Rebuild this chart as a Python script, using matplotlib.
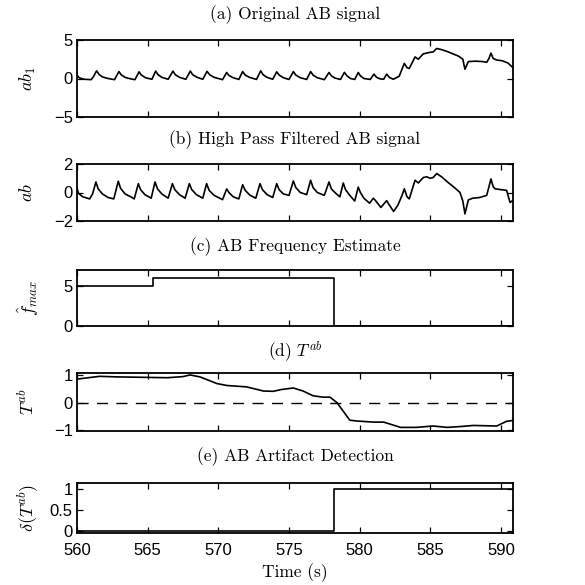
"""Five stacked panels: AB signal, filtered signal, frequency, T^ab and artifact flag."""

import matplotlib

matplotlib.use("Agg")
import matplotlib.pyplot as plt

plt.rcParams["font.family"] = ["Liberation Sans", "DejaVu Sans"]
plt.rcParams["mathtext.fontset"] = "cm"

# (a) original AB signal, knots
ab1_t = [
    560.0, 560.15, 560.5, 561.0, 561.15, 561.39, 561.55, 561.8, 562.2, 562.65,
    562.97, 563.12, 563.4, 563.8, 564.1, 564.39, 564.55, 564.85, 565.3, 565.57,
    565.73, 566.0, 566.45, 566.79, 566.95, 567.25, 567.7, 568.02, 568.18, 568.5,
    568.9, 569.2, 569.38, 569.7, 570.0, 570.3, 570.59, 570.75, 571.05, 571.45,
    571.72, 571.9, 572.2, 572.7, 573.0, 573.16, 573.45, 573.85, 574.13, 574.3,
    574.6, 575.0, 575.31, 575.48, 575.8, 576.25, 576.53, 576.7, 577.0, 577.5,
    577.83, 578.0, 578.25, 578.65, 578.92, 579.1, 579.35, 579.65, 579.9, 580.05,
    580.3, 580.75, 581.01, 581.2, 581.45, 581.7, 581.91, 582.1, 582.38, 582.8,
    583.16, 583.35, 583.51, 583.92, 584.15, 584.5, 584.98, 585.2, 585.45, 585.8,
    586.2, 586.6, 587.0, 587.3, 587.45, 587.69, 588.2, 588.7, 588.99, 589.15,
    589.29, 589.45, 589.7, 590.1, 590.5, 590.85,
]
ab1_v = [
    0.45, 0.1, -0.1, -0.15, 0.2, 1.0, 0.55, 0.2, 0.0, -0.15,
    0.9, 0.5, 0.15, -0.05, -0.15, 0.87, 0.45, 0.1, -0.1, 0.96,
    0.5, 0.15, -0.1, 0.96, 0.5, 0.15, -0.1, 0.96, 0.5, 0.15,
    -0.1, 0.93, 0.5, 0.15, 0.0, -0.15, 0.78, 0.4, 0.1, -0.12,
    0.9, 0.45, 0.15, -0.12, 1.0, 0.5, 0.15, -0.1, 0.87, 0.45,
    0.1, -0.12, 0.9, 0.45, 0.1, -0.12, 0.9, 0.45, 0.1, -0.15,
    0.78, 0.35, 0.05, -0.12, 0.8, 0.35, 0.0, -0.12, 0.78, 0.35,
    0.0, -0.12, 0.57, 0.15, -0.05, -0.1, 0.57, 0.15, -0.1, 0.3,
    1.96, 1.4, 1.3, 2.8, 2.5, 3.2, 3.4, 3.45, 3.9, 3.75,
    3.5, 3.2, 2.9, 2.5, 1.2, 2.2, 2.25, 2.2, 2.1, 2.6,
    3.3, 2.6, 2.4, 2.3, 2.0, 1.4,
]

# (b) high pass filtered AB signal
ab_t = [
    560.0, 560.1, 560.4, 560.9, 561.1, 561.34, 561.5, 561.8, 562.2, 562.6,
    562.92, 563.08, 563.4, 563.8, 564.05, 564.34, 564.5, 564.8, 565.25, 565.52,
    565.7, 566.0, 566.45, 566.75, 566.92, 567.25, 567.65, 567.95, 568.12, 568.45,
    568.9, 569.17, 569.35, 569.7, 570.0, 570.3, 570.59, 570.75, 571.05, 571.45,
    571.72, 571.9, 572.25, 572.65, 572.95, 573.12, 573.45, 573.85, 574.13, 574.3,
    574.6, 575.0, 575.31, 575.48, 575.8, 576.25, 576.53, 576.7, 577.0, 577.5,
    577.83, 578.0, 578.3, 578.6, 578.84, 579.0, 579.3, 579.65, 579.9, 580.05,
    580.3, 580.7, 580.97, 581.15, 581.5, 581.91, 582.05, 582.4, 582.7, 583.0,
    583.16, 583.35, 583.51, 583.92, 584.15, 584.5, 584.75, 584.98, 585.2, 585.45,
    585.8, 586.2, 586.7, 587.1, 587.3, 587.45, 587.69, 588.0, 588.5, 588.99,
    589.29, 589.45, 589.58, 590.0, 590.4, 590.64, 590.85,
]
ab_v = [
    0.3, -0.05, -0.3, -0.45, -0.1, 0.74, 0.25, -0.1, -0.35, -0.45,
    0.79, 0.3, -0.1, -0.3, -0.45, 0.62, 0.2, -0.15, -0.4, 0.74,
    0.25, -0.1, -0.4, 0.62, 0.2, -0.15, -0.4, 0.62, 0.2, -0.15,
    -0.4, 0.62, 0.15, -0.2, -0.35, -0.5, 0.25, 0.0, -0.3, -0.45,
    0.55, 0.15, -0.2, -0.4, 0.62, 0.2, -0.15, -0.35, 0.62, 0.2,
    -0.1, -0.2, 0.81, 0.35, 0.0, -0.15, 0.86, 0.35, 0.0, -0.2,
    0.74, 0.25, -0.05, -0.3, 0.67, 0.2, -0.2, -0.6, 0.38, 0.0,
    -0.4, -0.75, -0.4, -0.6, -1.05, -0.57, -0.8, -1.33, -0.9, -0.2,
    0.26, -0.3, -0.45, 0.86, 0.67, 1.05, 1.1, 1.0, 1.05, 1.33,
    1.1, 0.75, 0.35, 0.0, -0.6, -1.5, -0.52, -0.4, -0.35, -0.2,
    0.95, 0.4, 0.26, 0.2, 0.15, -0.7, -0.55,
]

# (c) frequency estimate (step)
fmax_t = [560.0, 565.4, 578.15, 590.85]
fmax_v = [5, 6, 0, 0]

# (d) T^ab
tab_t = [
    560.0, 561.6, 562.8, 565.2, 566.4, 567.5, 568.0, 568.7, 569.9, 570.6,
    572.0, 573.2, 573.9, 574.4, 575.3, 576.0, 576.7, 577.4, 577.9, 578.4,
    579.3, 579.8, 581.0, 581.7, 582.9, 584.0, 585.2, 586.2, 587.1, 588.05,
    589.7, 590.4, 590.85,
]
tab_v = [
    0.85, 0.95, 0.93, 0.91, 0.9, 0.94, 1.0, 0.93, 0.69, 0.62,
    0.57, 0.42, 0.41, 0.47, 0.53, 0.42, 0.25, 0.2, 0.2, 0.0,
    -0.63, -0.66, -0.7, -0.7, -0.89, -0.89, -0.84, -0.89, -0.86, -0.82,
    -0.84, -0.67, -0.64,
]

# (e) artifact detection (step)
det_t = [560.0, 578.15, 590.85]
det_v = [0, 1, 1]

X_LIM = (560, 590.85)
X_TICKS = [560, 565, 570, 575, 580, 585, 590]

W = H = 585
LEFT, RIGHT = 77, 513


def _px_axes(fig, top, bottom):
    """Add an axes given its top/bottom in image pixels."""
    return fig.add_axes([LEFT / W, 1 - bottom / H, (RIGHT - LEFT) / W, (bottom - top) / H])


def _style(ax, yticks, ylim, show_x=False):
    ax.set_xlim(*X_LIM)
    ax.set_ylim(*ylim)
    ax.set_xticks(X_TICKS)
    ax.set_yticks(yticks)
    ax.tick_params(direction="in", length=4, width=0.9, top=True, right=True,
                   labelsize=12, pad=3)
    ax.tick_params(axis="x", pad=7)
    if not show_x:
        ax.tick_params(labelbottom=False)
    for spine in ax.spines.values():
        spine.set_linewidth(1.3)


fig = plt.figure(figsize=(W / 100, H / 100), dpi=100)

panels = [
    (40, 117, 15, "(a) Original AB signal", r"$ab_1$"),
    (164, 221, 140, "(b) High Pass Filtered AB signal", r"$ab$"),
    (270, 326, 247, "(c) AB Frequency Estimate", r"$\hat{f}_{max}$"),
    (373, 431, 352, r"(d) $T^{ab}$", r"$T^{ab}$"),
    (483, 533, 457, "(e) AB Artifact Detection", r"$\delta(T^{ab})$"),
]

axes = []
for top, bottom, title_y, title, ylabel in panels:
    ax = _px_axes(fig, top, bottom)
    fig.text((LEFT + RIGHT) / 2 / W, 1 - title_y / H, title, ha="center", va="center",
             family="cmr10", fontsize=12.5)
    fig.text(28 / W, 1 - (top + bottom) / 2 / H, ylabel, ha="center", va="center",
             rotation=90, fontsize=13)
    axes.append(ax)

ax_a, ax_b, ax_c, ax_d, ax_e = axes

ax_a.plot(ab1_t, ab1_v, color="black", lw=1.2)
_style(ax_a, [-5, 0, 5], (-5, 5))

ax_b.plot(ab_t, ab_v, color="black", lw=1.2)
_style(ax_b, [-2, 0, 2], (-2, 2))

ax_c.step(fmax_t, fmax_v, where="post", color="black", lw=1.2)
_style(ax_c, [0, 5], (0, 7))

ax_d.plot(tab_t, tab_v, color="black", lw=1.2)
ax_d.axhline(0, color="black", lw=1.0, dashes=(8, 6))
_style(ax_d, [-1, 0, 1], (-1.02, 1.07))

ax_e.step(det_t, det_v, where="post", color="black", lw=1.2)
_style(ax_e, [0, 0.5, 1], (-0.05, 1.15), show_x=True)
ax_e.set_yticklabels(["0", "0.5", "1"])

fig.text((LEFT + RIGHT) / 2 / W, 1 - 573 / H, "Time (s)", ha="center", va="center",
         family="cmr10", fontsize=12.5)

fig.savefig("out.png", dpi=100)
plt.close(fig)
